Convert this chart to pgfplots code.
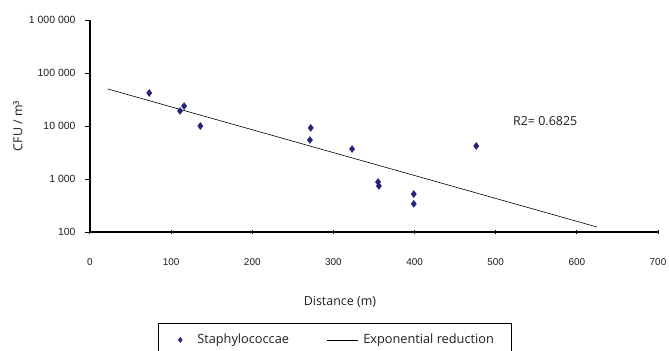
\documentclass[border=0pt]{standalone}
\usepackage{pgfplots}
\pgfplotsset{compat=1.18}
\usepackage{fontspec}
\setmainfont{Open Sans}
\newfontfamily\lib{Liberation Sans}
\definecolor{mk}{RGB}{36,36,122}
\definecolor{txt}{RGB}{30,30,30}
\pgfplotsset{
  markleg/.style={legend image code/.code={\path[draw=none,fill=none] (0bp,0bp) -- (22bp,0bp);\draw[##1, mark size=2.5bp] plot coordinates {(7bp,0bp)};}},
  lineleg/.style={legend image code/.code={\path[draw=none,fill=none] (0bp,0bp) -- (34bp,0bp);\draw[##1] (0bp,0bp) -- (31bp,0bp);}},
}
\begin{document}
\begin{tikzpicture}
\begin{axis}[
  scale only axis, width=568bp, height=212bp,
  xmin=0, xmax=700, ymin=100, ymax=1000000, ymode=log,
  axis x line=bottom, axis y line=left,
  axis line style={-, line width=1.1bp},
  xtick={0,100,...,700},
  ytick={100,1000,10000,100000,1000000},
  yticklabels={100,1 000,10 000,100 000,1 000 000},
  yminorticks=false,
  tick align=outside, major tick length=5bp,
  tick style={black, line width=1bp},
  x tick style={yshift=2.5bp},
  /pgf/number format/assume math mode=true,
  xticklabel style={font=\lib\fontsize{10}{12}\selectfont, text=txt, yshift=-18bp},
  yticklabel style={font=\lib\fontsize{10.5}{12}\selectfont, text=txt, xshift=-6bp},
  xlabel={Distance (m)},
  ylabel={CFU / m³},
  xlabel style={at={(axis description cs:0.44,-0.33)}, anchor=center, font=\fontsize{12.5}{14}\selectfont, text=txt},
  ylabel style={at={(axis description cs:-0.1268,0.5)}, anchor=center, font=\fontsize{12.5}{14}\selectfont, text=txt},
  legend columns=2,
  legend style={at={(0.1197,-0.4292)}, anchor=north west, draw=black, line width=0.6bp,
    font=\fontsize{12.8}{14}\selectfont, text=txt, inner xsep=15bp, inner ysep=9bp,
    /tikz/every even column/.append style={column sep=36bp}},
]
\addplot[only marks, mark=diamond*, mark size=3.5bp, color=mk, markleg]
  coordinates {(73,42000) (111,19200) (116,23800) (136,10000) (272,9200) (271,5450)
               (323,3680) (355,880) (356,740) (399,520) (399,340) (476,4200)};
\addlegendentry{Staphylococcae}
\addplot[black, line width=0.6bp, lineleg]
  coordinates {(22,49900) (100,22970) (200,8500) (300,3145) (400,1164) (500,430) (625,124)};
\addlegendentry{Exponential reduction}
\node[font=\fontsize{12.5}{14}\selectfont, text=txt] at (axis cs:561,12400) {R2= 0.6825};
\end{axis}
\pgfresetboundingbox
\useasboundingbox (-90bp,-119bp) rectangle (579bp,232bp);
\end{tikzpicture}
\end{document}
